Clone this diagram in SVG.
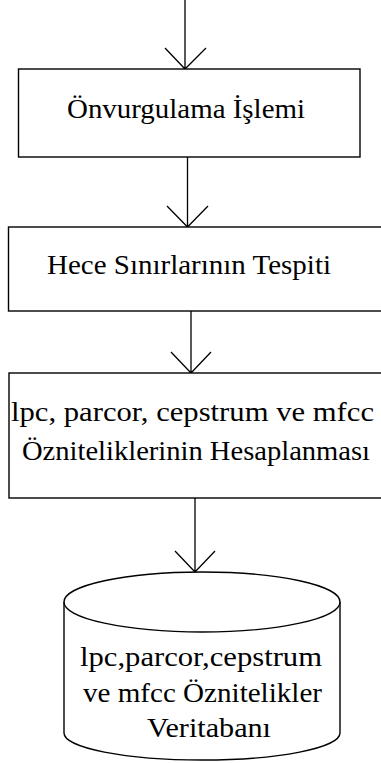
<svg xmlns="http://www.w3.org/2000/svg" width="381" height="763" viewBox="0 0 381 763">
<style>
.box{fill:#fff;stroke:#000;stroke-width:1.4}
.ln{fill:none;stroke:#000;stroke-width:1.3}
.t{font-family:"Liberation Serif","Times New Roman",serif;font-size:27px;fill:#000;text-anchor:middle}
</style>
<rect width="381" height="763" fill="#fff"/>
<g id="connectors">
<path class="ln" d="M185,0 V69 M165,48 L185,69 L206,48"/>
<path class="ln" d="M187.5,157 V227 M167,206 L187.5,227 L208,206"/>
<path class="ln" d="M191,311 V373 M171,352 L191,373 L211,352"/>
<path class="ln" d="M195,498 V572 M175,551 L195,572 L215,551"/>
</g>
<g id="n1">
<rect class="box" x="18.5" y="69" width="341.5" height="88"/>
<text class="t" x="186" y="117.5" textLength="238" lengthAdjust="spacingAndGlyphs">Önvurgulama İşlemi</text>
</g>
<g id="n2">
<rect class="box" x="8.5" y="227" width="380" height="84"/>
<text class="t" x="189" y="274" textLength="284" lengthAdjust="spacingAndGlyphs">Hece Sınırlarının Tespiti</text>
</g>
<g id="n3">
<rect class="box" x="9" y="373" width="380" height="125"/>
<text class="t" x="192.5" y="421" textLength="363" lengthAdjust="spacingAndGlyphs">lpc, parcor, cepstrum ve mfcc</text>
<text class="t" x="196" y="460" textLength="348" lengthAdjust="spacingAndGlyphs">Özniteliklerinin Hesaplanması</text>
</g>
<g id="n4">
<path class="box" d="M64,602 V733 A138,27 0 0 0 340,733 V602 A138,30 0 0 0 64,602 Z"/>
<path class="ln" d="M64,602 A138,30 0 0 0 340,602"/>
<text class="t" x="201" y="666" textLength="242" lengthAdjust="spacingAndGlyphs">lpc,parcor,cepstrum</text>
<text class="t" x="202.5" y="702" textLength="239" lengthAdjust="spacingAndGlyphs">ve mfcc Öznitelikler</text>
<text class="t" x="209" y="737" textLength="124" lengthAdjust="spacingAndGlyphs">Veritabanı</text>
</g>
</svg>
